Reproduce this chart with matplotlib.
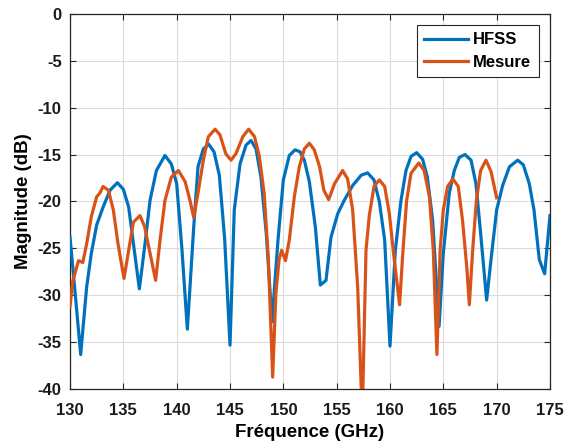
import matplotlib
matplotlib.use("Agg")
import matplotlib.pyplot as plt

plt.rcParams['font.family'] = ['Liberation Sans', 'DejaVu Sans']
plt.rcParams['font.weight'] = 'bold'

# ---- data ----
freq_hfss = [130, 130.5, 131.0, 131.56, 132.0, 132.5, 133.1, 133.75, 134.44, 135.0,
             135.5, 135.9, 136.5, 137.0, 137.5, 138.1, 138.9, 139.5, 140.0, 140.5,
             141.0, 141.6, 142.0, 142.5, 143.0, 143.5, 144.0, 144.5, 145.0, 145.4,
             145.94, 146.5, 146.97, 147.44, 147.9, 148.4, 148.94, 149.5, 150.0, 150.56,
             151.1, 151.56, 151.97, 152.44, 153.0, 153.47, 154.0, 154.47, 155.1, 155.7,
             156.5, 157.3, 157.9, 158.5, 159.0, 159.5, 160.0, 160.5, 161.03, 161.5,
             161.97, 162.5, 163.06, 163.5, 164.0, 164.6, 165.0, 165.56, 166.03, 166.5,
             167.03, 167.6, 168.06, 168.5, 169.06, 169.47, 170.0, 170.56, 171.2, 171.97,
             172.5, 173.06, 173.5, 174.0, 174.5, 175.0]
mag_hfss = [-23.8, -30.0, -36.3, -29.1, -25.5, -22.5, -20.6, -18.8, -18.0, -18.7,
            -20.6, -24.1, -29.3, -24.8, -19.9, -16.7, -15.1, -16.0, -18.1, -25.2,
            -33.6, -22.7, -16.3, -14.4, -13.9, -14.7, -17.2, -24.0, -35.3, -20.9,
            -16.0, -14.0, -13.5, -14.4, -17.4, -23.4, -32.8, -24.1, -17.7, -15.1,
            -14.5, -14.7, -15.6, -17.9, -22.7, -28.9, -28.4, -23.8, -21.3, -19.9,
            -18.3, -17.2, -16.95, -17.7, -20.0, -24.1, -35.4, -25.2, -19.9, -16.7,
            -15.2, -14.8, -15.5, -17.4, -22.0, -33.3, -25.5, -19.1, -16.7, -15.3,
            -15.0, -15.6, -18.1, -23.4, -30.5, -26.2, -20.9, -18.3, -16.3, -15.6,
            -16.1, -18.1, -20.9, -26.2, -27.7, -21.5]

freq_mes = [130, 130.25, 130.8, 131.2, 131.56, 132.0, 132.5, 132.8, 133.1, 133.6,
            134.06, 134.5, 135.06, 135.5, 135.94, 136.56, 137.0, 137.5, 138.03, 138.44,
            138.9, 139.5, 140.16, 140.8, 141.25, 141.6, 142.0, 142.5, 142.97, 143.6,
            144.06, 144.6, 145.1, 145.56, 146.2, 146.75, 147.3, 147.75, 148.2, 148.6,
            149.0, 149.3, 149.6, 149.84, 150.2, 150.56, 151.03, 151.5, 151.97, 152.44,
            152.9, 153.4, 153.8, 154.25, 154.8, 155.56, 156.03, 156.5, 156.97, 157.4,
            157.75, 158.06, 158.5, 159.0, 159.5, 159.94, 160.4, 160.9, 161.2, 161.56,
            161.97, 162.7, 163.2, 163.7, 164.06, 164.4, 164.7, 165.0, 165.4, 165.9,
            166.4, 166.8, 167.2, 167.44, 167.75, 168.1, 168.5, 169.0, 169.47, 170.0]
mag_mes = [-31.2, -28.5, -26.3, -26.5, -24.5, -21.6, -19.5, -19.1, -18.4, -18.8,
           -20.9, -24.5, -28.2, -25.2, -22.2, -21.5, -22.7, -25.5, -28.4, -24.1,
           -19.9, -17.4, -16.7, -17.9, -19.9, -21.7, -19.1, -15.6, -13.1, -12.3,
           -12.9, -14.9, -15.6, -14.9, -13.1, -12.3, -13.1, -15.2, -19.1, -26.2,
           -38.7, -29.8, -26.2, -25.2, -26.3, -24.1, -19.5, -16.3, -14.4, -13.8,
           -14.5, -16.3, -18.8, -19.8, -18.1, -16.7, -17.6, -20.9, -29.1, -43.0,
           -25.2, -21.5, -18.4, -17.7, -18.4, -21.3, -26.2, -31.0, -25.5, -19.9,
           -17.0, -15.9, -16.7, -19.5, -25.2, -36.3, -25.2, -20.9, -18.4, -17.6,
           -18.4, -22.0, -27.0, -31.0, -25.2, -19.9, -16.7, -15.6, -16.8, -19.6]

x_ticks = [130, 135, 140, 145, 150, 155, 160, 165, 170, 175]
y_ticks = [0, -5, -10, -15, -20, -25, -30, -35, -40]
series_labels = ['HFSS', 'Mesure']

# ---- figure ----
fig = plt.figure(figsize=(5.66, 4.45), dpi=100)
ax = fig.add_axes([0.1237, 0.1252, 0.848, 0.8440])

ax.plot(freq_hfss, mag_hfss, color='#0072BD', lw=2.3, label=series_labels[0], zorder=3)
ax.plot(freq_mes, mag_mes, color='#D95319', lw=2.3, label=series_labels[1], zorder=3)

ax.set_xlim(130, 175)
ax.set_ylim(-40, 0)
ax.set_xticks(x_ticks)
ax.set_yticks(y_ticks)
ax.set_xticklabels([str(t) for t in x_ticks])
ax.set_yticklabels([str(t) for t in y_ticks])

ax.grid(True, color='#dcdcdc', lw=0.8)
ax.set_axisbelow(True)
ax.tick_params(direction='in', top=True, right=True, length=4, width=0.8,
               labelsize=12, colors='#262626')
ax.tick_params(axis='x', pad=10)
ax.tick_params(axis='y', pad=6)
for lab in ax.get_xticklabels() + ax.get_yticklabels():
    lab.set_fontweight('bold')
    lab.set_color('#1a1a1a')
for s in ax.spines.values():
    s.set_color('#262626')
    s.set_linewidth(0.9)

ax.set_xlabel('Fréquence (GHz)', fontsize=13.5, fontweight='bold', labelpad=4)
ax.set_ylabel('Magnitude (dB)', fontsize=13.5, fontweight='bold', labelpad=4)

leg = ax.legend(loc='upper right', bbox_to_anchor=(0.977, 0.970),
                prop={'weight': 'bold', 'size': 12}, handlelength=2.65,
                fancybox=False, framealpha=1, edgecolor='#262626',
                borderpad=0.45, labelspacing=0.45, handletextpad=0.3,
                borderaxespad=0.0)
leg.get_frame().set_linewidth(0.8)

fig.savefig('out.png', dpi=100)
